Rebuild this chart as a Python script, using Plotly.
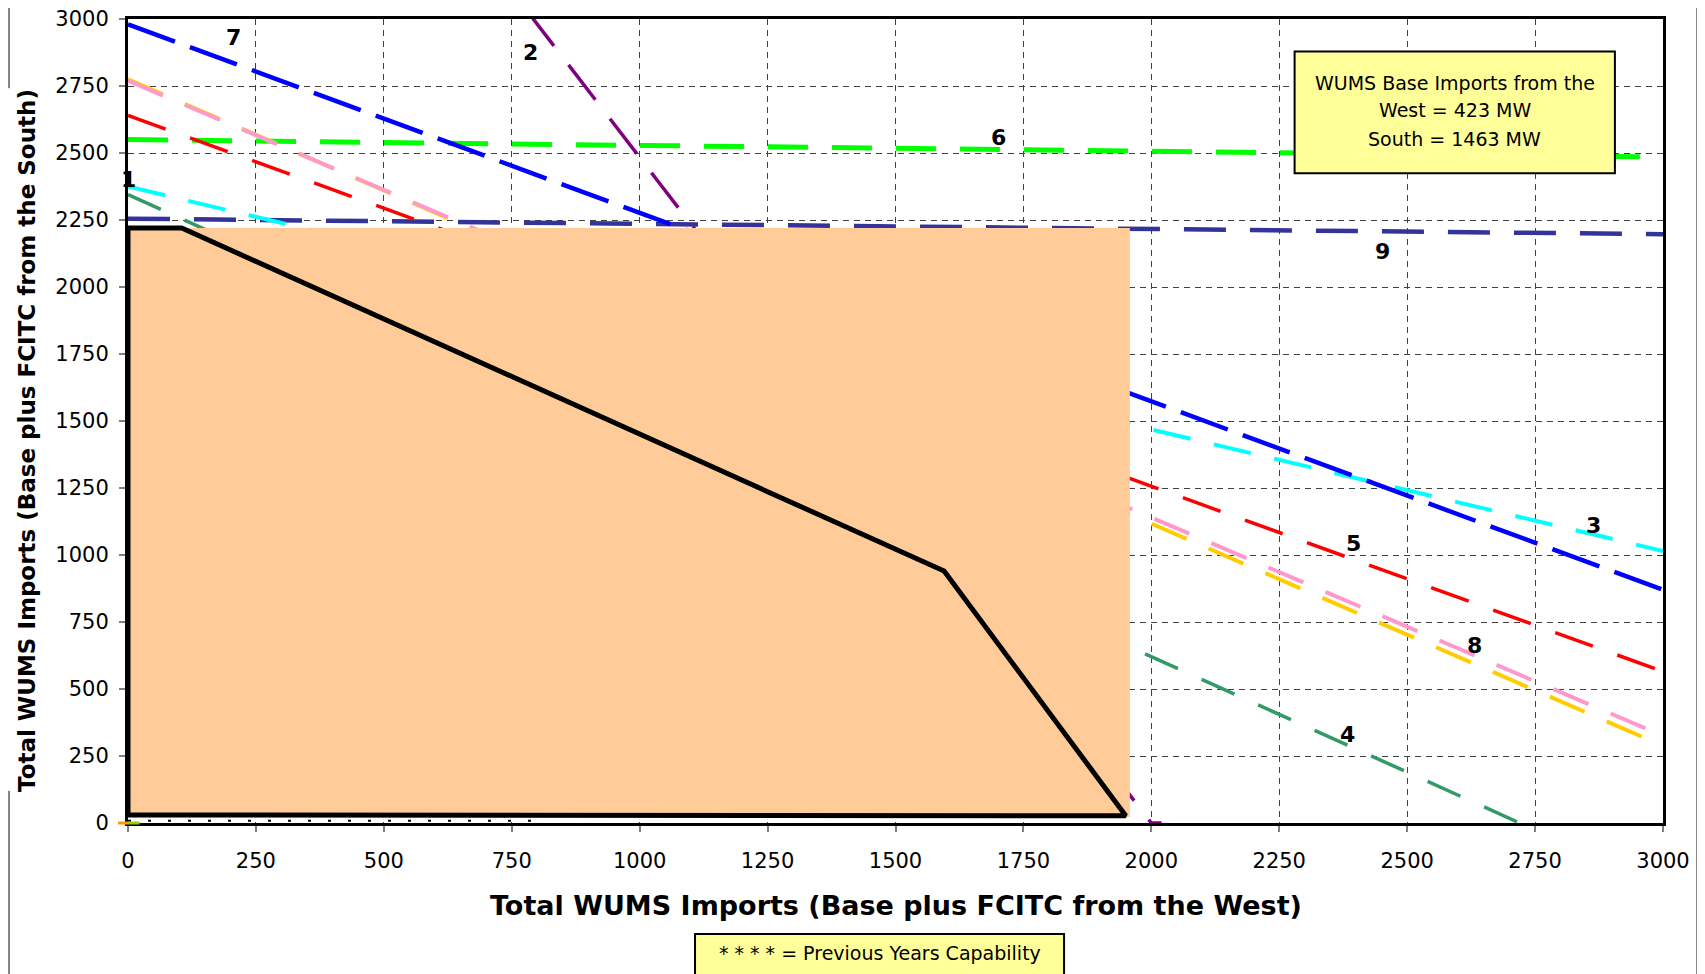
import plotly.graph_objects as go

# ---------------- data ----------------
tick_vals = [0, 250, 500, 750, 1000, 1250, 1500, 1750, 2000, 2250, 2500, 2750, 3000]

line1_x = [0, 3000]          # yellow
line1_y = [2775, 288]
line2_x = [780, 2000, 2020]  # purple
line2_y = [3030, 0, 0]
line3_x = [0, 3000]          # cyan
line3_y = [2375, 1015]
line4_x = [0, 2720]          # teal
line4_y = [2345, 0]
line5_x = [0, 3000]          # red
line5_y = [2640, 565]
line6_x = [0, 3000]          # green
line6_y = [2550, 2485]
line7_x = [0, 3000]          # blue
line7_y = [2980, 870]
line8_x = [0, 3000]          # pink
line8_y = [2770, 325]
line9_x = [0, 3000]          # dark blue
line9_y = [2255, 2197]

prev_x = [0, 820]
prev_y = [8, 8]

region_x = [0, 1958, 1958, 0, 0]
region_y = [22, 22, 2220, 2220, 22]

cap_x = [0, 105, 1595, 1950, 0, 0]
cap_y = [2220, 2220, 940, 27, 30, 2220]

label_text = ["7", "2", "6", "9", "3", "5", "8", "4", "1"]
label_x = [206, 787, 1701, 2451, 2864, 2396, 2632, 2383, 0]
label_y = [2932, 2876, 2558, 2132, 1111, 1042, 661, 332, 2400]

box_lines = ["WUMS Base Imports from the", "West = 423 MW", "South = 1463 MW"]
box_line_y = [2763, 2659, 2553]
note_text = "* * * * = Previous Years Capability"
x_title = "Total WUMS Imports (Base plus FCITC from the West)"
y_title = "Total WUMS Imports (Base plus FCITC from the South)"

# ---------------- figure ----------------
FONT = "DejaVu Sans"
fig = go.Figure()

series = [
    (line6_x, line6_y, "#00FF00", 5, "40px,24px"),
    (line9_x, line9_y, "#333399", 4.5, "42px,24px"),
    (line4_x, line4_y, "#339966", 3.5, "36px,26px"),
    (line3_x, line3_y, "#00FFFF", 4, "38px,24px"),
    (line5_x, line5_y, "#FF0000", 3.5, "40px,26px"),
    (line1_x, line1_y, "#FFCC00", 4, "38px,24px"),
    (line8_x, line8_y, "#FF99CC", 4, "38px,24px"),
    (line7_x, line7_y, "#0000FF", 4.5, "50px,16px"),
    (line2_x, line2_y, "#800080", 3.5, "44px,24px"),
]
for xs, ys, col, w, d in series:
    fig.add_trace(go.Scatter(x=xs, y=ys, mode="lines",
                             line=dict(color=col, width=w, dash=d),
                             showlegend=False, hoverinfo="skip"))

fig.add_trace(go.Scatter(x=prev_x, y=prev_y, mode="lines",
                         line=dict(color="black", width=2, dash="3px,17px"),
                         showlegend=False, hoverinfo="skip"))

fig.add_trace(go.Scatter(x=region_x, y=region_y, mode="lines", fill="toself",
                         fillcolor="#FFCC99", line=dict(width=0, color="#FFCC99"),
                         showlegend=False, hoverinfo="skip"))

fig.add_trace(go.Scatter(x=cap_x, y=cap_y, mode="lines",
                         line=dict(color="black", width=5),
                         showlegend=False, hoverinfo="skip"))

for t, lx, ly in zip(label_text, label_x, label_y):
    fig.add_annotation(x=lx, y=ly, text=t, showarrow=False,
                       font=dict(family=FONT, size=22, color="black", weight="bold"))

# info box (top right)
fig.add_shape(type="rect", xref="x", yref="y", x0=2280, x1=2906, y0=2424, y1=2879,
              fillcolor="#FFFF99", line=dict(color="black", width=2), layer="above")
for t, ly in zip(box_lines, box_line_y):
    fig.add_annotation(x=2593, y=ly, text=t, showarrow=False,
                       font=dict(family=FONT, size=19, color="black"))

# note box (bottom)
fig.add_shape(type="rect", xref="paper", yref="paper", x0=0.3694, x1=0.6098,
              y0=-0.25, y1=-0.138, fillcolor="#FFFF99",
              line=dict(color="black", width=2), layer="above")
fig.add_annotation(xref="paper", yref="paper", x=0.4896, y=-0.1617, text=note_text,
                   showarrow=False, yanchor="middle",
                   font=dict(family=FONT, size=19, color="black"))

# axis titles
fig.add_annotation(xref="paper", yref="paper", x=0.5005, y=-0.1032, text=x_title,
                   showarrow=False, yanchor="middle",
                   font=dict(family=FONT, size=27, color="black", weight="bold"))
fig.add_annotation(xref="paper", yref="paper", x=-0.0658, y=0.4764, text=y_title,
                   showarrow=False, textangle=-90, xanchor="center", yanchor="middle",
                   font=dict(family=FONT, size=23, color="black", weight="bold"))

# outer chart-area border lines (grey)
for y0, y1 in [(0.914, 1.03), (-0.2, 0.04)]:
    fig.add_shape(type="line", xref="paper", yref="paper", x0=-0.0775, x1=-0.0775,
                  y0=y0, y1=y1, line=dict(color="#808080", width=2))
fig.add_shape(type="line", xref="paper", yref="paper", x0=1.0222, x1=1.0222,
              y0=-0.2, y1=1.03, line=dict(color="#808080", width=2))

# tiny marks at origin
fig.add_shape(type="line", xref="paper", yref="paper", x0=-0.0065, x1=0.0, y0=0, y1=0,
              line=dict(color="#FF9900", width=3))
fig.add_shape(type="line", xref="paper", yref="paper", x0=0.0, x1=0.0075, y0=0, y1=0,
              line=dict(color="#99CC00", width=3))

axis_common = dict(
    range=[0, 3000], tickmode="array", tickvals=tick_vals,
    showgrid=True, gridcolor="#404040", griddash="6px,5px", gridwidth=1,
    showline=True, linecolor="black", linewidth=3, mirror=True,
    ticks="outside", ticklen=6, tickcolor="#808080", tickwidth=1.5,
    tickfont=dict(family=FONT, size=21, color="black"),
    zeroline=False, fixedrange=True, ticklabeloverflow="allow",
)
fig.update_xaxes(**axis_common, ticklabelstandoff=11)
fig.update_yaxes(**axis_common, ticklabelstandoff=6)

# page body has an 8px margin: plot area lands at x 128..1663, y 19..823
fig.update_layout(
    width=1705, height=974,
    margin=dict(l=120, r=50, t=11, b=159, autoexpand=False),
    plot_bgcolor="white", paper_bgcolor="white",
    font=dict(family=FONT, color="black"),
)

fig.write_html("out.html")
